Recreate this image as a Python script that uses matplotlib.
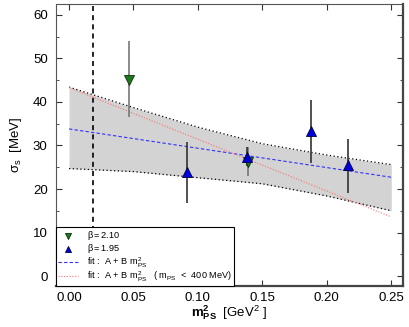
import matplotlib.pyplot as plt
import numpy as np
from matplotlib.ticker import MultipleLocator

plt.rcParams['font.family'] = ['Liberation Sans', 'DejaVu Sans']
plt.rcParams['mathtext.fontset'] = 'custom'
plt.rcParams['mathtext.rm'] = 'Liberation Sans'
plt.rcParams['mathtext.it'] = 'Liberation Sans'
plt.rcParams['mathtext.bf'] = 'Liberation Sans:bold'

# beta = 2.10 (green, down triangles)
x_210 = [0.0466, 0.1385]
y_210 = [45.0, 26.3]
lo_210 = [36.5, 23.0]
hi_210 = [54.1, 29.6]

# beta = 1.95 (blue, up triangles)
x_195 = [0.0916, 0.1380, 0.1874, 0.2166]
y_195 = [24.0, 27.4, 33.4, 25.4]
lo_195 = [16.9, 25.2, 26.0, 19.1]
hi_195 = [30.7, 29.7, 40.5, 31.4]

# error band
band_x = [0.00, 0.05, 0.10, 0.15, 0.20, 0.25]
band_hi = [43.4, 38.7, 34.2, 30.4, 27.8, 25.6]
band_lo = [24.7, 24.0, 22.6, 21.2, 18.4, 15.0]

# fit lines (end points)
fit_x = [0.0, 0.25]
fit_all = [33.8, 22.7]
fit_cut = [43.3, 13.6]

m_pi2 = 0.0186

fig = plt.figure(figsize=(4.09, 3.27), dpi=100)
ax = fig.add_axes([0.137, 0.125, 0.848, 0.863])

ax.fill_between(band_x, band_lo, band_hi, color='#d3d3d3', lw=0, zorder=1)
ax.plot(band_x, band_hi, color='black', ls=(0, (1, 2)), lw=0.9, zorder=2)
ax.plot(band_x, band_lo, color='black', ls=(0, (1, 2)), lw=0.9, zorder=2)

ax.axvline(m_pi2, color='black', ls=(0, (3, 2.5)), lw=1.2, zorder=3)

l_all, = ax.plot(fit_x, fit_all, color='#3030ff', ls=(0, (3, 2)), lw=0.8, zorder=3)
l_cut, = ax.plot(fit_x, fit_cut, color='#ff7070', ls=(0, (1, 1.5)), lw=0.8, zorder=3)

y = np.array(y_210)
ax.errorbar(x_210, y_210, yerr=[y - np.array(lo_210), np.array(hi_210) - y],
            fmt='none', ecolor='#777777', elinewidth=1.2, capsize=0, zorder=4)
y = np.array(y_195)
ax.errorbar(x_195, y_195, yerr=[y - np.array(lo_195), np.array(hi_195) - y],
            fmt='none', ecolor='#333333', elinewidth=1.2, capsize=0, zorder=4)

p210 = ax.scatter(x_210, y_210, marker='v', s=52, color='#1f7a1f',
                  edgecolors='#0a300a', linewidths=0.6, zorder=5)
p195 = ax.scatter(x_195, y_195, marker='^', s=52, color='#0000dd',
                  edgecolors='#000040', linewidths=0.6, zorder=5)

ax.set_xlim(-0.0101, 0.259)
ax.set_ylim(-2.3, 62.5)
ax.xaxis.set_major_locator(MultipleLocator(0.05))
ax.yaxis.set_major_locator(MultipleLocator(10))
ax.yaxis.set_minor_locator(MultipleLocator(5))
ax.xaxis.set_major_formatter(plt.FormatStrFormatter('%.2f'))
ax.tick_params(which='both', direction='in', top=True, right=True,
               labelsize=9.5, color='#333333')
ax.tick_params(axis='x', pad=4)
ax.tick_params(axis='y', pad=6)
ax.tick_params(which='major', length=4)
ax.tick_params(which='minor', length=2.5)
for s in ['left', 'top']:
    ax.spines[s].set_linewidth(0.8)
    ax.spines[s].set_color('#555555')
for s in ['right', 'bottom']:
    ax.spines[s].set_linewidth(1.6)
    ax.spines[s].set_color('#444444')

ax.set_ylabel(r'$\sigma_{\rm s}$  [MeV]', fontsize=9.5, labelpad=6)
ax.set_xlabel(r'$\mathbf{m^{2}_{PS}}$  [GeV$^{2}$ ]', fontsize=9.5, labelpad=0)
ax.xaxis.set_label_coords(0.5, -0.062)

leg = ax.legend([p210, p195, l_all, l_cut],
                [r'$\beta = 2.10$', r'$\beta = 1.95$',
                 r'fit :  A + B m$^{2}_{\rm PS}$',
                 r'fit :  A + B m$^{2}_{\rm PS}$   ( m$_{\rm PS}$  <  400 MeV)'],
                loc='lower left', bbox_to_anchor=(0.0, 0.0), fontsize=6.6,
                frameon=True, fancybox=False, edgecolor='black', framealpha=1,
                borderpad=0.25, labelspacing=0.0, handlelength=2.2,
                handletextpad=0.9, borderaxespad=0, markerscale=0.6)
leg.get_frame().set_linewidth(0.8)
leg.set_zorder(6)

fig.savefig('out.png', dpi=100)
